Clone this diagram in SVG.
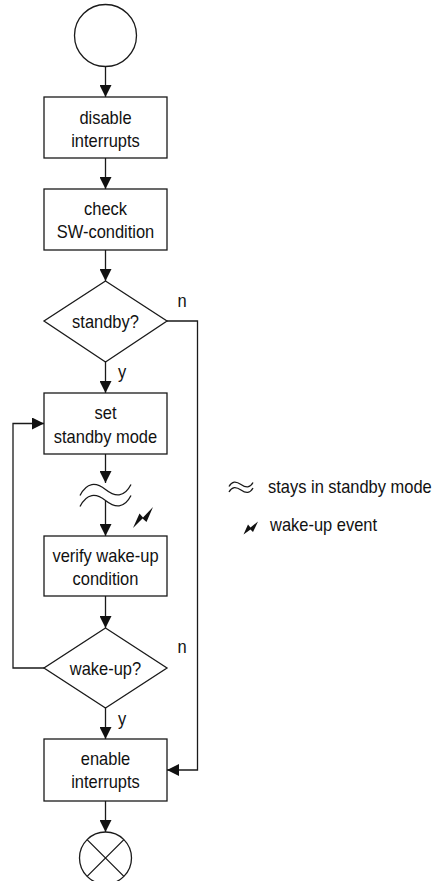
<svg xmlns="http://www.w3.org/2000/svg" width="436" height="881" viewBox="0 0 436 881">
  <style>
    .shape { fill: #fff; stroke: #1a1a1a; stroke-width: 1.3; }
    .line { fill: none; stroke: #1a1a1a; stroke-width: 1.3; }
    .label { font-family: "Liberation Sans", Arial, sans-serif; font-size: 18.5px; fill: #111; }
    .mid { text-anchor: middle; }
    .bolt { fill: #111; stroke: none; }
  </style>
  <defs>
    <marker id="arrow" markerUnits="userSpaceOnUse" markerWidth="12" markerHeight="12" refX="12" refY="6" orient="auto">
      <path d="M0,0 L12,6 L0,12 Z" fill="#111"/>
    </marker>
  </defs>

  <rect width="436" height="881" fill="#fff"/>

  <!-- connectors -->
  <g id="connectors" class="line">
    <path d="M105.5,66.5 V97" marker-end="url(#arrow)"/>
    <path d="M105.5,158 V189" marker-end="url(#arrow)"/>
    <path d="M105.5,250 V281" marker-end="url(#arrow)"/>
    <path d="M105.5,362 V393" marker-end="url(#arrow)"/>
    <path d="M167,321 H197.5 V770 H167" marker-end="url(#arrow)"/>
    <path d="M105.5,454 V483" marker-end="url(#arrow)"/>
    <path d="M105.5,501 V536" marker-end="url(#arrow)"/>
    <path d="M105.5,596 V628" marker-end="url(#arrow)"/>
    <path d="M105.5,708 V739" marker-end="url(#arrow)"/>
    <path d="M44,668 H13 V423.5 H44" marker-end="url(#arrow)"/>
    <path d="M105.5,801 V832" marker-end="url(#arrow)"/>
  </g>

  <!-- branch labels (narrowed type) -->
  <g id="branch-labels" class="label">
    <text transform="translate(182,307) scale(0.89,1)" class="mid">n</text>
    <text transform="translate(118,378) scale(0.89,1)">y</text>
    <text transform="translate(182,653) scale(0.89,1)" class="mid">n</text>
    <text transform="translate(118,725) scale(0.89,1)">y</text>
  </g>

  <!-- start -->
  <g id="start">
    <circle class="shape" cx="105.5" cy="35.5" r="31"/>
  </g>

  <g id="disable-interrupts">
    <rect class="shape" x="44" y="97" width="123" height="61"/>
    <text class="label mid" transform="translate(105.5,123.5) scale(0.89,1)">disable</text>
    <text class="label mid" transform="translate(105.5,146.5) scale(0.89,1)">interrupts</text>
  </g>

  <g id="check-sw-condition">
    <rect class="shape" x="44" y="189" width="123" height="61"/>
    <text class="label mid" transform="translate(105.5,215) scale(0.89,1)">check</text>
    <text class="label mid" transform="translate(105.5,238) scale(0.89,1)">SW-condition</text>
  </g>

  <g id="standby-decision">
    <polygon class="shape" points="105.5,281 167,321 105.5,362 44,321"/>
    <text class="label mid" transform="translate(105.5,328) scale(0.89,1)">standby?</text>
  </g>

  <g id="set-standby-mode">
    <rect class="shape" x="44" y="393" width="123" height="61"/>
    <text class="label mid" transform="translate(105.5,418.5) scale(0.89,1)">set</text>
    <text class="label mid" transform="translate(105.5,442.5) scale(0.89,1)">standby mode</text>
  </g>

  <!-- standby wait (interruption mark) and wake-up event -->
  <g id="standby-wait">
    <path class="line" d="M80,495.5 C87,482 96,482 105.5,489.5 S124,498 131,484.5"/>
    <path class="line" d="M80,506.5 C87,493 96,493 105.5,500.5 S124,509 131,495.5"/>
  </g>
  <g id="wake-up-event">
    <polygon class="bolt" points="133,528 139.5,513.5 143,517.5 153,507 146.5,522 142.5,518.5"/>
  </g>

  <g id="verify-wake-up-condition">
    <rect class="shape" x="44" y="536" width="123" height="60"/>
    <text class="label mid" transform="translate(105.5,562) scale(0.89,1)">verify wake-up</text>
    <text class="label mid" transform="translate(105.5,585) scale(0.89,1)">condition</text>
  </g>

  <g id="wake-up-decision">
    <polygon class="shape" points="105.5,628 167,668 105.5,708 44,668"/>
    <text class="label mid" transform="translate(105.5,675) scale(0.89,1)">wake-up?</text>
  </g>

  <g id="enable-interrupts">
    <rect class="shape" x="44" y="739" width="123" height="62"/>
    <text class="label mid" transform="translate(105.5,765) scale(0.89,1)">enable</text>
    <text class="label mid" transform="translate(105.5,788) scale(0.89,1)">interrupts</text>
  </g>

  <!-- end -->
  <g id="end">
    <circle class="shape" cx="105.5" cy="858" r="26"/>
    <path class="line" d="M87.1,839.6 L123.9,876.4 M123.9,839.6 L87.1,876.4"/>
  </g>

  <!-- legend -->
  <g id="legend">
    <path class="line" d="M229,486.5 C232,481 236,481 241,484.5 S250,488 253,482.5"/>
    <path class="line" d="M229,492 C232,486.5 236,486.5 241,490 S250,493.5 253,488"/>
    <text class="label" transform="translate(268,492.5) scale(0.89,1)">stays in standby mode</text>
    <polygon class="bolt" points="243.5,534.5 248,524.5 250.5,527.5 258,521.5 253,532 250.5,529.5"/>
    <text class="label" transform="translate(270,531) scale(0.89,1)">wake-up event</text>
  </g>
</svg>
